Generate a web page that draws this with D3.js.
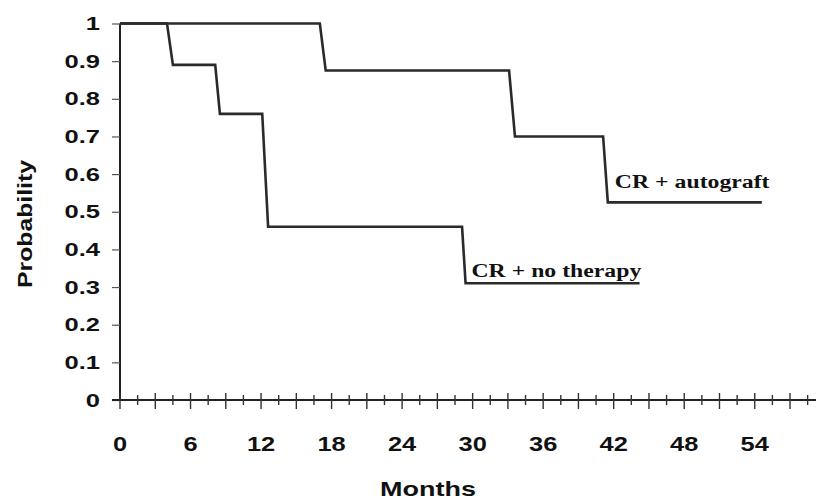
<!DOCTYPE html>
<html>
<head>
<meta charset="utf-8">
<script src="https://cdn.jsdelivr.net/npm/d3@7"></script>
<style>
  body { margin: 0; background: #fff; }
  svg { display: block; }
</style>
</head>
<body>
<div id="chart"></div>
<script>
// Kaplan-Meier style step curves (month, probability)
const autograft = [[0, 1], [17, 1], [17.5, 0.875], [33.1, 0.875], [33.6, 0.70], [41.1, 0.70], [41.5, 0.525], [54.6, 0.525]];
const noTherapy = [[0, 1], [4, 1], [4.5, 0.89], [8.1, 0.89], [8.5, 0.76], [12.1, 0.76], [12.6, 0.46], [29.1, 0.46], [29.4, 0.31], [44.2, 0.31]];
const xTicks = [0, 6, 12, 18, 24, 30, 36, 42, 48, 54];
const yTicks = [0, 0.1, 0.2, 0.3, 0.4, 0.5, 0.6, 0.7, 0.8, 0.9, 1];
const seriesLabels = [
  { name: 'CR + autograft', at: [42.1, 0.563] },
  { name: 'CR + no therapy', at: [29.9, 0.327] }
];

const width = 816, height = 500;
const margin = { top: 23.5, right: 6, bottom: 100, left: 120 };
const sans = 'Liberation Sans, Arial, sans-serif';

const svg = d3.select('#chart').append('svg')
  .attr('width', width)
  .attr('height', height);

const x = d3.scaleLinear().domain([0, 58.7]).range([margin.left, width - margin.right]);
const y = d3.scaleLinear().domain([0, 1]).range([height - margin.bottom, margin.top]);

// y axis (labels drawn separately so they can be widened like the original font)
const yAxis = svg.append('g')
  .attr('transform', `translate(${margin.left},0)`)
  .call(d3.axisLeft(y).tickValues(yTicks).tickSize(8).tickFormat(''));
yAxis.select('.domain').attr('stroke', '#222').attr('stroke-width', 2).attr('d', `M0,${y(0)}V${y(1)}`);
yAxis.selectAll('.tick line').attr('stroke', '#555').attr('stroke-width', 1.2);

svg.append('g').selectAll('text')
  .data(yTicks)
  .join('text')
  .attr('transform', d => `translate(100,${y(d) + 6.5}) scale(1.38,1)`)
  .attr('text-anchor', 'end')
  .attr('font-family', sans)
  .attr('font-weight', 'bold')
  .attr('font-size', 18.5)
  .attr('fill', '#111')
  .text(d => d3.format('')(+d.toFixed(1)));

// x axis: minor ticks every 1.5 months crossing the line
const minor = d3.range(0, 58.6, 1.5);
const xAxis = svg.append('g')
  .attr('transform', `translate(0,${y(0)})`);
xAxis.append('line')
  .attr('x1', x(0) - 8).attr('x2', width)
  .attr('stroke', '#222').attr('stroke-width', 2);
xAxis.selectAll('line.minor')
  .data(minor)
  .join('line')
  .attr('class', 'minor')
  .attr('x1', d => x(d)).attr('x2', d => x(d))
  .attr('y1', (d, i) => i % 2 === 0 ? -7 : -5)
  .attr('y2', (d, i) => i % 2 === 0 ? 9 : 5)
  .attr('stroke', '#333').attr('stroke-width', 1.4);
xAxis.selectAll('text')
  .data(xTicks)
  .join('text')
  .attr('transform', d => `translate(${x(d)},51) scale(1.27,1)`)
  .attr('text-anchor', 'middle')
  .attr('font-family', sans)
  .attr('font-weight', 'bold')
  .attr('font-size', 20)
  .attr('fill', '#111')
  .text(d => d);

// axis titles
svg.append('text')
  .attr('transform', 'translate(428,496) scale(1.35,1)')
  .attr('text-anchor', 'middle')
  .attr('font-family', sans)
  .attr('font-weight', 'bold')
  .attr('font-size', 20)
  .attr('fill', '#111')
  .text('Months');

svg.append('text')
  .attr('transform', 'translate(32,224) rotate(-90) scale(1.24,1)')
  .attr('text-anchor', 'middle')
  .attr('font-family', sans)
  .attr('font-weight', 'bold')
  .attr('font-size', 20)
  .attr('fill', '#111')
  .text('Probability');

// curves
const line = d3.line().x(d => x(d[0])).y(d => y(d[1]));
svg.selectAll('path.curve')
  .data([autograft, noTherapy])
  .join('path')
  .attr('class', 'curve')
  .attr('d', line)
  .attr('fill', 'none')
  .attr('stroke', '#2a2a2a')
  .attr('stroke-width', 2.6)
  .attr('stroke-linejoin', 'miter');

// curve labels
svg.selectAll('text.series')
  .data(seriesLabels)
  .join('text')
  .attr('class', 'series')
  .attr('transform', d => `translate(${x(d.at[0])},${y(d.at[1])}) scale(1.32,1)`)
  .attr('font-family', 'Liberation Serif, Times New Roman, serif')
  .attr('font-weight', 'bold')
  .attr('font-size', 18)
  .attr('fill', '#111')
  .text(d => d.name);
</script>
</body>
</html>
